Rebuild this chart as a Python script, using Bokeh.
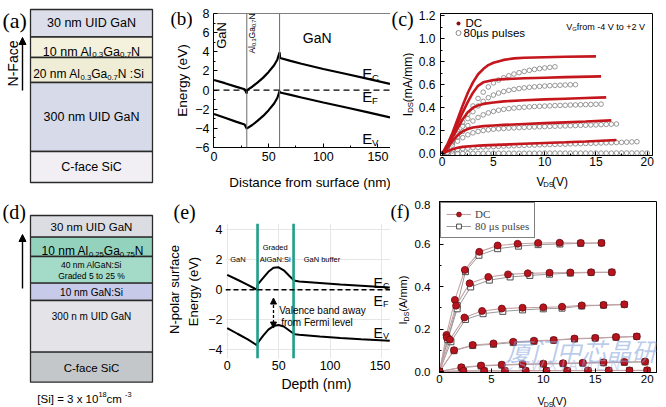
import math
import numpy as np
from bokeh.plotting import figure
from bokeh.layouts import row, column
from bokeh.models import (Range1d, Label, Arrow, NormalHead, Span, FixedTicker,
                          PrintfTickFormatter, Legend, LegendItem)
from bokeh.embed import file_html
from bokeh.resources import INLINE

SANS = "Liberation Sans"
SERIF = "Liberation Serif"
CJK = "Noto Sans CJK SC"

# ------------------------------------------------------------------ data
# (a) N-face structure, top to bottom
a_layers = [[("30 nm UID GaN", "n")],
            [("10 nm Al", "n"), ("0.3", "sub"), ("Ga", "n"), ("0.7", "sub"), ("N", "n")],
            [("20 nm Al", "n"), ("0.3", "sub"), ("Ga", "n"), ("0.7", "sub"), ("N :Si", "n")],
            [("300 nm UID GaN", "n")],
            [("C-face SiC", "n")]]
a_colors = ["#dcdfe9", "#f4f1dc", "#efedd6", "#d7dbe9", "#f1eff4"]

# (d) N-polar structure with graded layer, top to bottom
d_layers = [[[("30 nm UID GaN", "n")]],
            [[("10 nm Al", "n"), ("0.25", "sub"), ("Ga", "n"), ("0.75", "sub"), ("N", "n")]],
            [[("40 nm AlGaN:Si", "n")], [("Graded 5 to 25 %", "n")]],
            [[("10 nm GaN:Si", "n")]],
            [[("300 n m UID GaN", "n")]],
            [[("C-face SiC", "n")]]]
d_colors = ["#dcdde2", "#93d3be", "#a3dac8", "#c8caea", "#e4e4e8", "#c4c7ca"]
d_note = [("[Si] = 3 x 10", "n"), ("18", "sup"), (" cm", "n"), ("-3", "sup")]

# (b) band diagram
b_depth = [0, 10, 20, 28, 30, 30.2, 35, 40, 45, 50, 55, 58, 60, 60.5, 70, 80, 100, 120, 140, 161]
b_ec = [1.05, 0.72, 0.36, 0.08, -0.35, 0.0, 0.35, 0.8, 1.3, 1.9, 2.6, 3.2, 3.95, 3.35, 3.05, 2.75, 2.2, 1.7, 1.2, 0.65]
b_ev = [-2.5, -2.9, -3.3, -3.6, -4.05, -4.0, -3.65, -3.2, -2.7, -2.1, -1.4, -0.8, -0.1, -0.25, -0.5, -0.78, -1.3, -1.8, -2.3, -2.85]
b_interfaces = [30, 60]

# (c) output characteristics, VG from -4 V to +2 V
c_dc_vds = [
    [0, 0.5, 1, 1.5, 2, 2.5, 3, 3.5, 4, 4.5, 5, 6, 7, 8, 10, 12, 15],
    [0, 0.5, 1, 1.5, 2, 2.5, 3, 3.5, 4, 5, 6, 8, 10, 12, 15.5],
    [0, 0.5, 1, 1.5, 2, 2.5, 3, 3.5, 4, 5, 6, 8, 10, 12, 14, 16],
    [0, 0.5, 1, 1.5, 2, 2.5, 3, 4, 5, 6, 8, 10, 12, 14, 16.5],
    [0, 0.5, 1, 1.5, 2, 3, 4, 6, 8, 10, 12, 14, 17],
]
c_dc_ids = [
    [0, 0.08, 0.18, 0.3, 0.42, 0.53, 0.62, 0.69, 0.735, 0.77, 0.79, 0.815, 0.828, 0.834, 0.838, 0.842, 0.845],
    [0, 0.07, 0.16, 0.26, 0.36, 0.45, 0.53, 0.59, 0.62, 0.64, 0.648, 0.655, 0.66, 0.665, 0.672],
    [0, 0.06, 0.14, 0.22, 0.3, 0.36, 0.4, 0.42, 0.433, 0.445, 0.455, 0.465, 0.472, 0.478, 0.484, 0.49],
    [0, 0.05, 0.11, 0.16, 0.195, 0.215, 0.228, 0.24, 0.246, 0.251, 0.259, 0.266, 0.273, 0.28, 0.29],
    [0, 0.022, 0.04, 0.052, 0.06, 0.068, 0.073, 0.08, 0.087, 0.094, 0.1, 0.107, 0.12],
]
c_pulse_vds = [0, 0.5, 1, 1.5, 2, 2.5, 3, 3.5, 4, 4.5, 5, 5.5, 6, 6.5, 7, 7.5, 8, 8.5, 9, 9.5,
               10, 10.5, 11, 11.5, 12, 12.5, 13, 13.5, 14, 14.5, 15, 15.5, 16, 16.5, 17, 17.5,
               18, 18.5, 19, 19.5, 20]
c_pulse_ids = [
    [0, 0.06, 0.13, 0.2, 0.275, 0.345, 0.415, 0.48, 0.535, 0.58, 0.615, 0.64, 0.66, 0.677, 0.692,
     0.704, 0.715, 0.724, 0.732, 0.739, 0.745, 0.75, 0.755],
    [0, 0.05, 0.11, 0.175, 0.24, 0.305, 0.365, 0.415, 0.455, 0.487, 0.51, 0.527, 0.54, 0.551, 0.559,
     0.566, 0.572, 0.577, 0.581, 0.585, 0.588, 0.591, 0.593, 0.595, 0.597, 0.599, 0.6],
    [0, 0.045, 0.095, 0.145, 0.195, 0.245, 0.285, 0.315, 0.338, 0.355, 0.368, 0.378, 0.386, 0.392,
     0.397, 0.401, 0.404, 0.407, 0.41, 0.412, 0.414, 0.416, 0.418, 0.42, 0.421, 0.423, 0.424, 0.426,
     0.427, 0.428, 0.43, 0.431],
    [0, 0.035, 0.075, 0.11, 0.14, 0.165, 0.182, 0.194, 0.202, 0.208, 0.213, 0.217, 0.22, 0.223, 0.225,
     0.227, 0.229, 0.231, 0.233, 0.235, 0.236, 0.238, 0.239, 0.241, 0.242, 0.244, 0.245, 0.247, 0.248,
     0.25, 0.251, 0.253, 0.255, 0.257, 0.259],
    [0, 0.012, 0.025, 0.035, 0.043, 0.049, 0.053, 0.056, 0.059, 0.061, 0.063, 0.065, 0.067, 0.069,
     0.07, 0.072, 0.073, 0.075, 0.076, 0.078, 0.079, 0.08, 0.082, 0.083, 0.084, 0.086, 0.087, 0.088,
     0.09, 0.091, 0.092, 0.094, 0.095, 0.096, 0.098, 0.099, 0.101, 0.103, 0.105],
    [0, 0.002, 0.003, 0.003, 0.004, 0.004, 0.004, 0.004, 0.004, 0.005, 0.005, 0.005, 0.005, 0.005,
     0.005, 0.005, 0.005, 0.005, 0.005, 0.005, 0.006, 0.006, 0.006, 0.006, 0.006, 0.006, 0.006, 0.006,
     0.006, 0.006, 0.006, 0.006, 0.006, 0.006, 0.007, 0.007, 0.007, 0.007, 0.007, 0.007, 0.007],
]

# (e) band diagram with graded AlGaN:Si
e_depth = [0, 10, 20, 29, 29.5, 35, 40, 45, 50, 55, 60, 64, 66, 70, 90, 110, 130, 158]
e_ec = [1.0, 0.67, 0.33, 0.0, 0.35, 0.8, 1.2, 1.47, 1.5, 1.3, 0.95, 0.68, 0.6, 0.55, 0.45, 0.35, 0.27, 0.15]
e_ev = [-2.55, -2.93, -3.3, -3.7, -3.55, -3.05, -2.65, -2.42, -2.35, -2.45, -2.7, -2.9, -2.96, -3.0,
        -3.12, -3.22, -3.3, -3.4]
e_interfaces = [29.5, 64.5]
e_arrow_depth = 45
e_arrow_span = [-2.55, -0.55]

# (f) output characteristics, DC and 80 us pulses
f_dc_vds = [
    [0, 0.67, 1.48, 2.44, 3.83, 5.6, 7.52, 9.5, 11.57, 13.6, 15.6],
    [0, 0.7, 1.6, 2.9, 4.7, 6.6, 8.5, 10.6, 12.6, 14.6, 16.6],
    [0, 1.0, 2.4, 4.1, 6.0, 8.0, 10.0, 11.8, 13.7, 15.8, 17.8],
    [0, 1.4, 3.2, 5.2, 7.1, 9.1, 11.0, 13.0, 15.0, 17.0, 19.0],
    [0, 2.1, 4.0, 6.0, 8.0, 10.0, 11.9, 13.8, 15.8, 17.8, 19.8],
    [0, 2.3, 4.3, 6.3, 8.3, 10.3, 12.3, 14.3, 16.3, 18.3, 20.0],
]
f_dc_ids = [
    [0, 0.172, 0.337, 0.478, 0.563, 0.593, 0.601, 0.605, 0.606, 0.605, 0.605],
    [0, 0.16, 0.31, 0.415, 0.445, 0.457, 0.462, 0.465, 0.466, 0.467, 0.467],
    [0, 0.15, 0.254, 0.285, 0.296, 0.3, 0.302, 0.305, 0.311, 0.313, 0.316],
    [0, 0.1, 0.125, 0.132, 0.14, 0.145, 0.148, 0.155, 0.158, 0.162, 0.165],
    [0, 0.02, 0.028, 0.032, 0.035, 0.037, 0.039, 0.041, 0.043, 0.045, 0.047],
    [0, 0.003, 0.003, 0.003, 0.004, 0.004, 0.004, 0.005, 0.005, 0.005, 0.006],
]
f_pulse_vds = [
    [0, 0.8, 1.7, 2.5, 3.8, 5.6, 7.6, 9.5, 11.6, 13.6, 15.6],
    [0, 0.8, 1.7, 3.0, 4.8, 6.8, 8.7, 10.6, 12.6, 14.6, 16.6],
    [0, 1.1, 2.5, 4.2, 6.1, 8.0, 10.0, 11.8, 13.7, 15.8, 17.8],
    [0, 1.4, 3.2, 5.2, 7.1, 9.1, 11.0, 13.0, 15.0, 17.0, 19.0],
    [0, 2.1, 4.0, 6.0, 8.0, 10.0, 11.9, 13.8, 15.8, 17.8, 19.8],
    [0, 2.3, 4.3, 6.3, 8.3, 10.3, 12.3, 14.3, 16.3, 18.3, 20.0],
]
f_pulse_ids = [
    [0, 0.155, 0.31, 0.47, 0.547, 0.578, 0.59, 0.597, 0.6, 0.603, 0.605],
    [0, 0.15, 0.295, 0.398, 0.43, 0.445, 0.452, 0.458, 0.463, 0.466, 0.467],
    [0, 0.14, 0.245, 0.272, 0.283, 0.29, 0.295, 0.298, 0.308, 0.312, 0.315],
    [0, 0.098, 0.122, 0.128, 0.136, 0.142, 0.147, 0.153, 0.157, 0.161, 0.165],
    [0, 0.018, 0.026, 0.03, 0.033, 0.035, 0.037, 0.039, 0.041, 0.043, 0.045],
    [0, 0.002, 0.003, 0.003, 0.003, 0.004, 0.004, 0.004, 0.005, 0.005, 0.005],
]

# ------------------------------------------------------------------ helpers
AW = {' ': 278, '.': 278, ',': 278, ':': 278, ';': 278, '-': 333, '+': 584, '=': 584,
      '(': 333, ')': 333, '[': 278, ']': 278, '/': 278, '%': 889, 'µ': 576, 'μ': 576}
for ch in "0123456789":
    AW[ch] = 556
AW.update(dict(zip("ABCDEFGHIJKLMNOPQRSTUVWXYZ",
                   [667, 667, 722, 722, 667, 611, 778, 722, 278, 500, 667, 556, 833, 722, 778,
                    667, 778, 722, 667, 611, 722, 667, 944, 667, 667, 611])))
AW.update(dict(zip("abcdefghijklmnopqrstuvwxyz",
                   [556, 556, 500, 556, 556, 278, 556, 556, 222, 222, 500, 222, 833, 556, 556,
                    556, 556, 333, 500, 278, 556, 500, 722, 500, 500, 500])))


def text_w(txt, size, font):
    if font == CJK:
        return len(txt) * size
    w = sum(AW.get(ch, 556) for ch in txt) * size / 1000.0
    return w * (0.9 if font == SERIF else 1.0)


class Geo:
    """maps pixel positions on the page to one figure's data space"""
    def __init__(self, ox, oy, L, T, W, H, x0, x1, ytop, ybot):
        self.ox, self.oy, self.L, self.T, self.W, self.H = ox, oy, L, T, W, H
        self.x0, self.x1, self.ytop, self.ybot = x0, x1, ytop, ybot

    def data(self, rx, ry):
        x = self.x0 + (np.asarray(rx, float) - self.ox - self.L) / self.W * (self.x1 - self.x0)
        y = self.ytop + (np.asarray(ry, float) - self.oy - self.T) / self.H * (self.ybot - self.ytop)
        return x, y


def rich(p, g, rx, ry, segs, size, align="center", angle=0.0, font=SANS,
         color="black", style="normal", alpha=1.0, sub_scale=0.64):
    if isinstance(segs, str):
        segs = [(segs, "n")]
    if len(segs) == 1 and segs[0][1] == "n":
        x, y = g.data(rx, ry)
        p.add_layout(Label(x=float(x), y=float(y), text=segs[0][0], angle=angle, text_font=font,
                           text_font_size=f"{size:.1f}px", text_align=align,
                           text_baseline="middle", text_color=color,
                           text_font_style=style, text_alpha=alpha))
        return
    parts, total = [], 0.0
    for txt, kind in segs:
        s = size if kind == "n" else size * sub_scale
        shift = 0.0 if kind == "n" else (0.24 * size if kind == "sub" else -0.4 * size)
        parts.append((txt, s, shift, total))
        total += text_w(txt, s, font)
    start = {"left": 0.0, "center": -total / 2.0, "right": -total}[align]
    ca, sa = math.cos(angle), math.sin(angle)
    for txt, s, shift, off in parts:
        a = start + off
        d = 0.36 * size + shift
        px = rx + ca * a + sa * d
        py = ry - sa * a + ca * d
        x, y = g.data(px, py)
        p.add_layout(Label(x=float(x), y=float(y), text=txt, angle=angle, text_font=font,
                           text_font_size=f"{s:.1f}px", text_align="left",
                           text_baseline="alphabetic", text_color=color,
                           text_font_style=style, text_alpha=alpha))


def make_fig(w, h, xr, yr, L, R, T, B, **kw):
    p = figure(width=w, height=h, x_range=xr, y_range=yr,
               min_border_left=L, min_border_right=R, min_border_top=T, min_border_bottom=B,
               output_backend="svg", toolbar_location=None, **kw)
    p.background_fill_color = "white"
    p.border_fill_color = "white"
    return p


def text_fig(x0, x1, y0, y1):
    """a blank figure whose frame is its whole canvas, for texts around a plot"""
    p = make_fig(x1 - x0, y1 - y0, Range1d(x0, x1), Range1d(y1, y0), 0, 0, 0, 0,
                 x_axis_type=None, y_axis_type=None)
    p.outline_line_color = None
    p.grid.visible = False
    return p, Geo(x0, y0, 0, 0, x1 - x0, y1 - y0, x0, x1, y0, y1)


def style_axis(ax, size, standoff):
    ax.major_tick_in = 4
    ax.major_tick_out = 0
    ax.minor_tick_in = 2
    ax.minor_tick_out = 0
    ax.axis_line_color = "black"
    ax.major_tick_line_color = "black"
    ax.minor_tick_line_color = "black"
    ax.major_label_text_font = SANS
    ax.major_label_text_color = "black"
    ax.major_label_text_font_size = f"{size}px"
    ax.major_label_standoff = standoff


def schematic(x0, x1, y0, y1, bounds, colors, box_left, box_right):
    p, g = text_fig(x0, x1, y0, y1)
    p.quad(left=[box_left] * len(colors), right=[box_right] * len(colors),
           top=bounds[:-1], bottom=bounds[1:], fill_color=colors,
           line_color="#2a2a2a", line_width=1.3)
    return p, g


# ------------------------------------------------------------------ (a)
fa, GA = schematic(0, 160, 0, 200, [9, 36.5, 57, 82, 151, 182], a_colors, 30, 152)
a_text_y = [22.75, 46.75, 69.5, 116.5, 166.5]
a_text_x = [91, 91, 88, 91, 91]
a_text_size = [12.5, 12.5, 12, 12.5, 12.5]
for segs, tx, ty, ts in zip(a_layers, a_text_x, a_text_y, a_text_size):
    rich(fa, GA, tx, ty, segs, ts)
fa.add_layout(Arrow(end=NormalHead(size=7, fill_color="black", line_color="black"),
                    x_start=22, y_start=90, x_end=22, y_end=37, line_width=1.4))
rich(fa, GA, 12, 63, "N-Face", 14, angle=math.pi / 2)
rich(fa, GA, 2, 20, "(a)", 22, align="left", font=SERIF)

# ------------------------------------------------------------------ (d)
fd, GD = schematic(0, 160, 200, 407, [215, 236.7, 256, 282.7, 300, 351.7, 381.7], d_colors, 30, 152)
d_text_pos = [[(91, 226)], [(92, 246.5)], [(91, 264), (91, 275)], [(91, 291.5)], [(91, 315.5)],
              [(91, 367)]]
d_text_size = [11.5, 12, 8.5, 10, 10, 11.5]
for lines, poss, ts in zip(d_layers, d_text_pos, d_text_size):
    for segs, (tx, ty) in zip(lines, poss):
        rich(fd, GD, tx, ty, segs, ts)
fd.add_layout(Arrow(end=NormalHead(size=7, fill_color="black", line_color="black"),
                    x_start=22, y_start=288, x_end=22, y_end=234, line_width=1.4))
rich(fd, GD, 84, 394, d_note, 11.5)
rich(fd, GD, 2, 211, "(d)", 20, align="left", font=SERIF)

# ------------------------------------------------------------------ (b)
b_left, GBL = text_fig(160, 192, 0, 200)
GB = Geo(192, 0, 17, 13, 181, 134, -0.45, 161.45, 8, -6)
fb = make_fig(198, 170, Range1d(GB.x0, GB.x1), Range1d(GB.ybot, GB.ytop), 17, 0, 13, 23)
b_bot, GBB = text_fig(192, 390, 170, 200)
fb.outline_line_color = None
fb.grid.visible = False
fb.xaxis.ticker = FixedTicker(ticks=[0, 50, 100, 150], minor_ticks=[25, 75, 125])
fb.yaxis.ticker = FixedTicker(ticks=[-6, -4, -2, 0, 2, 4, 6, 8], minor_ticks=[-5, -3, -1, 1, 3, 5, 7])
style_axis(fb.xaxis[0], 12.5, 4)
style_axis(fb.yaxis[0], 12.5, 4)
fb.add_layout(Span(location=GB.ytop, dimension="width", line_color="black", line_width=1))
for xi in b_interfaces:
    fb.add_layout(Span(location=xi, dimension="height", line_color="#6a6a6a", line_width=1))
fb.add_layout(Span(location=0, dimension="width", line_color="black", line_width=1.3, line_dash="6 4"))
fb.line(b_depth, b_ec, line_color="black", line_width=2.2)
fb.line(b_depth, b_ev, line_color="black", line_width=2.2)
rich(b_left, GBL, 170, 18, "(b)", 19, align="left", font=SERIF)
rich(b_left, GBL, 182, 80, "Energy (eV)", 13.6, angle=math.pi / 2)
rich(b_bot, GBB, 300, 182, "Distance from surface (nm)", 13.4)
rich(fb, GB, 217, 35, "GaN", 13, angle=math.pi / 2)
rich(fb, GB, 245, 33, [("Al", "n"), ("0.3", "sub"), ("Ga", "n"), ("0.7", "sub"), ("N", "n")], 8.5,
     angle=math.pi / 2)
rich(fb, GB, 315, 37, "GaN", 14)
rich(fb, GB, 361, 68, [("E", "n"), ("C", "sub")], 15, align="left")
rich(fb, GB, 361, 91, [("E", "n"), ("F", "sub")], 15, align="left")
rich(fb, GB, 361, 133, [("E", "n"), ("V", "sub")], 15, align="left")

# ------------------------------------------------------------------ (c)
c_left, GCL = text_fig(390, 414, 0, 200)
GC = Geo(414, 0, 26, 13, 212, 142, -0.166, 20.517, 1.2174, -0.0147)
fc = make_fig(252, 171, Range1d(GC.x0, GC.x1), Range1d(GC.ybot, GC.ytop), 26, 14, 13, 16)
c_bot, GCB = text_fig(414, 666, 171, 200)
fc.outline_line_color = "black"
fc.grid.visible = False
fc.xaxis.ticker = FixedTicker(ticks=[0, 5, 10, 15, 20], minor_ticks=[2.5, 7.5, 12.5, 17.5])
fc.yaxis.ticker = FixedTicker(ticks=[0, 0.2, 0.4, 0.6, 0.8, 1.0, 1.2],
                              minor_ticks=[0.1, 0.3, 0.5, 0.7, 0.9, 1.1])
fc.yaxis.formatter = PrintfTickFormatter(format="%.1f")
style_axis(fc.xaxis[0], 12, 1)
style_axis(fc.yaxis[0], 12, 5)
c_px, c_py = [], []
for vals in c_pulse_ids:
    c_px += c_pulse_vds[:len(vals)]
    c_py += vals
fc.scatter(c_px, c_py, marker="circle", size=4.6, line_color="#7d7d7d", fill_color=None, line_width=0.8)
fc.multi_line(c_dc_vds, c_dc_ids, line_color="#c4161c", line_width=2.6)
lx, ly = GC.data([458, 458], [23, 32.5])
fc.scatter([float(lx[0])], [float(ly[0])], marker="circle", size=4, fill_color="#8c0d12", line_color=None)
fc.scatter([float(lx[1])], [float(ly[1])], marker="circle", size=5, fill_color=None,
           line_color="#7d7d7d", line_width=0.9)
rich(fc, GC, 465, 22.5, "DC", 11.5, align="left")
rich(fc, GC, 463, 32.5, "80µs pulses", 11.5, align="left")
rich(fc, GC, 647, 23, [("V", "n"), ("G", "sub"), (" from -4 V to +2 V", "n")], 9, align="right")
rich(c_left, GCL, 403, 84, [("I", "n"), ("DS", "sub"), ("(mA/mm)", "n")], 12, angle=math.pi / 2)
rich(c_bot, GCB, 547, 177, [("V", "n"), ("DS", "sub"), (" (V)", "n")], 12)
rich(c_left, GCL, 391, 18, "(c)", 20, align="left", font=SERIF)

# ------------------------------------------------------------------ (e)
e_left, GEL = text_fig(160, 205, 200, 407)
GE = Geo(205, 200, 19, 23, 166, 135, -1.64, 158.7, 4.42, -4.58)
fe = make_fig(185, 175, Range1d(GE.x0, GE.x1), Range1d(GE.ybot, GE.ytop), 19, 0, 23, 17)
e_bot, GEB = text_fig(205, 390, 375, 407)
fe.outline_line_color = None
fe.xaxis.ticker = FixedTicker(ticks=[0, 50, 100, 150])
fe.yaxis.ticker = FixedTicker(ticks=[-4, -2, 0, 2, 4])
for ax, so in ((fe.xaxis[0], 2), (fe.yaxis[0], 3)):
    style_axis(ax, 12.5, so)
    ax.axis_line_color = None
    ax.major_tick_line_color = None
    ax.minor_tick_line_color = None
fe.grid.grid_line_color = "#e6e6e6"
for xi in e_interfaces:
    fe.add_layout(Span(location=xi, dimension="height", line_color="#1f9e89", line_width=2.6))
fe.add_layout(Span(location=0, dimension="width", line_color="black", line_width=1.4, line_dash="5 3"))
fe.line(e_depth, e_ec, line_color="black", line_width=2)
fe.line(e_depth, e_ev, line_color="black", line_width=2)
fe.add_layout(Arrow(start=NormalHead(size=6, fill_color="black", line_color="black"),
                    end=NormalHead(size=6, fill_color="black", line_color="black"),
                    x_start=e_arrow_depth, y_start=e_arrow_span[0], x_end=e_arrow_depth,
                    y_end=e_arrow_span[1], line_width=1.3, line_dash="3 2"))
rich(e_left, GEL, 173, 211, "(e)", 20, align="left", font=SERIF)
rich(e_left, GEL, 174, 289, "N-polar surface", 13, angle=math.pi / 2)
rich(e_left, GEL, 193, 291, "Energy (eV)", 13, angle=math.pi / 2)
rich(e_bot, GEB, 307, 383, "Depth (nm)", 14)
rich(fe, GE, 236.5, 258.5, "GaN", 7.5)
rich(fe, GE, 274, 246.5, "Graded", 7.5)
rich(fe, GE, 274, 259, "AlGaN:Si", 7.5)
rich(fe, GE, 321, 259, "GaN buffer", 7.5)
rich(fe, GE, 373, 277, [("E", "n"), ("C", "sub")], 14, align="left")
rich(fe, GE, 373, 295, [("E", "n"), ("F", "sub")], 14, align="left")
rich(fe, GE, 373, 327, [("E", "n"), ("V", "sub")], 14, align="left")
rich(fe, GE, 278, 310, "Valence band away", 10, align="left")
rich(fe, GE, 280, 321.5, "from Fermi level", 10, align="left")

# ------------------------------------------------------------------ (f)
f_left, GFL = text_fig(390, 410, 200, 407)
GF = Geo(410, 200, 29, 1, 217, 171, 0, 20.9, 0.8, -0.0047)
ff = make_fig(256, 188, Range1d(GF.x0, GF.x1), Range1d(GF.ybot, GF.ytop), 29, 10, 1, 16)
f_bot, GFB = text_fig(410, 666, 388, 407)
ff.outline_line_color = "black"
ff.grid.visible = False
ff.xaxis.ticker = FixedTicker(ticks=[0, 5, 10, 15, 20])
ff.yaxis.ticker = FixedTicker(ticks=[0, 0.2, 0.4, 0.6, 0.8], minor_ticks=[0.1, 0.3, 0.5, 0.7])
ff.yaxis.formatter = PrintfTickFormatter(format="%.1f")
style_axis(ff.xaxis[0], 11.5, 2)
style_axis(ff.yaxis[0], 11.5, 9)
p_line = ff.multi_line(f_pulse_vds, f_pulse_ids, line_color="#9a9a9a", line_width=1)
d_line = ff.multi_line(f_dc_vds, f_dc_ids, line_color="#c7a2a5", line_width=1.1)
fpx = [v for curve in f_pulse_vds for v in curve]
fpy = [v for curve in f_pulse_ids for v in curve]
fdx = [v for curve in f_dc_vds for v in curve]
fdy = [v for curve in f_dc_ids for v in curve]
p_sc = ff.scatter(fpx, fpy, marker="square", size=6, line_color="#3a3a3a", fill_color="white", line_width=0.9)
d_sc = ff.scatter(fdx, fdy, marker="circle", size=7, fill_color="#b8141e", line_color="#6e0a0f", line_width=0.8)
legend = Legend(items=[LegendItem(label="DC", renderers=[d_line, d_sc]),
                       LegendItem(label="80 μs pulses", renderers=[p_line, p_sc])],
                location="top_left", margin=1, padding=5, spacing=0, glyph_width=25,
                glyph_height=12, label_height=12, label_standoff=4,
                label_text_font=SERIF, label_text_font_size="11px",
                border_line_color="black", border_line_width=1,
                background_fill_color="white", background_fill_alpha=1)
ff.add_layout(legend)
rich(f_left, GFL, 390, 211, "(f)", 19, align="left", font=SERIF)
rich(f_left, GFL, 399, 298, [("I", "n"), ("DS", "sub"), (" (A/mm)", "n")], 11, angle=math.pi / 2)
rich(f_bot, GFB, 543, 397, [("V", "n"), ("DS", "sub"), (" (V)", "n")], 11)
rich(ff, GF, 506, 349, "厦门中芯晶研", 25, align="left", font=CJK, color="#7f9fda",
     style="italic", alpha=0.55)
rich(ff, GF, 503, 364, "C S W  X I A M E N", 14, align="left", color="#9fb4e0",
     style="italic", alpha=0.5)

top = row(fa, row(b_left, column(fb, b_bot)), row(c_left, column(fc, c_bot)))
bottom = row(fd, row(e_left, column(fe, e_bot)), row(f_left, column(ff, f_bot)))
layout = column(top, bottom)
open("out.html", "w").write(file_html(layout, INLINE))
